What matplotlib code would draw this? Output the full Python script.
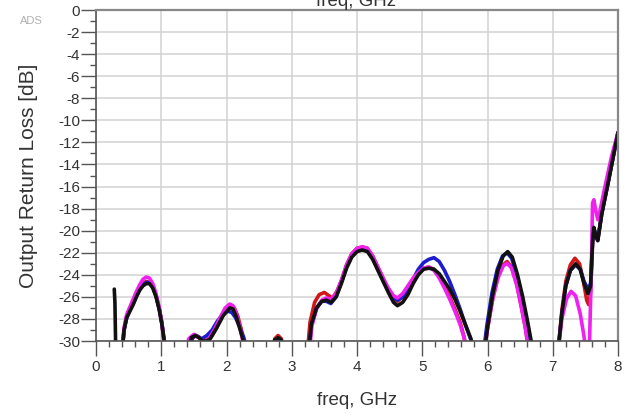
import numpy as np
import matplotlib.pyplot as plt
from matplotlib.ticker import MultipleLocator

nan = np.nan

# Output return loss traces (dB vs GHz), NaN separates the visible segments
freq_red = [0.40, 0.43, 0.47, 0.52, 0.57, 0.62, 0.67, 0.72, 0.77, 0.82, 0.87, 0.92, 0.97, 1.01, 1.04, 1.06, nan,
            1.43, 1.47, 1.52, 1.58, 1.64, 1.70, 1.77, 1.85, 1.93, 2.01, 2.07, 2.12, 2.17, 2.22, 2.26, 2.29, nan,
            2.70, 2.74, 2.79, 2.84, 2.88, nan,
            3.24, 3.28, 3.35, 3.42, 3.50, 3.57, 3.63, 3.70, 3.77, 3.84, 3.92, 4.00, 4.08, 4.16, 4.24, 4.32, 4.40,
            4.48, 4.56, 4.62, 4.70, 4.78, 4.86, 4.94, 5.02, 5.10, 5.18, 5.26, 5.34, 5.42, 5.50, 5.58, 5.64, 5.69, nan,
            5.95, 6.00, 6.08, 6.16, 6.24, 6.30, 6.37, 6.45, 6.52, 6.58, 6.64, nan,
            7.08, 7.14, 7.20, 7.27, 7.34, 7.41, 7.47, 7.52, 7.55, 7.58, 7.61, 7.63, 7.66, 7.69, 7.75, 7.85, 7.93, 8.00]
db_red = [-31, -29.0, -27.8, -27.1, -26.5, -25.8, -25.2, -24.8, -24.6, -24.7, -25.1, -25.9, -27.1, -28.4, -30.0, -31, nan,
          -31, -29.8, -29.5, -29.7, -30.0, -29.9, -29.6, -28.8, -27.8, -27.0, -26.8, -27.0, -27.7, -28.8, -29.9, -31, nan,
          -31, -29.8, -29.5, -29.8, -31, nan,
          -31, -28.3, -26.5, -25.8, -25.6, -25.9, -26.1, -25.4, -24.4, -23.1, -22.1, -21.6, -21.5, -21.6, -22.3, -23.3, -24.3,
          -25.3, -26.1, -26.4, -26.0, -25.2, -24.4, -23.8, -23.4, -23.3, -23.5, -24.1, -25.0, -26.0, -27.1, -28.3, -29.6, -31, nan,
          -31, -28.9, -26.1, -24.2, -23.1, -22.8, -23.3, -24.9, -26.9, -28.8, -31, nan,
          -31, -27.2, -24.6, -23.1, -22.5, -23.0, -24.6, -26.3, -26.7, -25.6, -21.2, -19.8, -20.5, -20.9, -18.5, -15.6, -13.2, -11.1]

freq_blue = [0.40, 0.43, 0.47, 0.52, 0.57, 0.62, 0.67, 0.72, 0.77, 0.82, 0.87, 0.92, 0.97, 1.01, 1.05, 1.07, nan,
             1.42, 1.48, 1.54, 1.62, 1.70, 1.78, 1.86, 1.94, 2.02, 2.08, 2.14, 2.20, 2.26, 2.29, 2.32, nan,
             2.71, 2.75, 2.79, 2.83, 2.87, nan,
             3.26, 3.30, 3.38, 3.46, 3.53, 3.60, 3.68, 3.76, 3.84, 3.92, 4.00, 4.08, 4.16, 4.24, 4.32, 4.40,
             4.48, 4.56, 4.62, 4.70, 4.78, 4.86, 4.94, 5.02, 5.10, 5.18, 5.26, 5.34, 5.42, 5.50, 5.58, 5.66, 5.74, 5.80, nan,
             5.94, 5.99, 6.07, 6.15, 6.23, 6.30, 6.37, 6.45, 6.53, 6.61, 6.69, nan,
             7.08, 7.14, 7.20, 7.27, 7.35, 7.42, 7.48, 7.54, 7.58, 7.61, 7.63, 7.66, 7.69, 7.75, 7.85, 7.93, 8.00]
db_blue = [-31, -29.0, -27.9, -27.2, -26.6, -25.9, -25.3, -24.9, -24.7, -24.7, -25.1, -25.9, -27.1, -28.4, -30.1, -31, nan,
           -31, -29.7, -29.5, -29.8, -29.5, -29.0, -28.2, -27.6, -27.3, -27.4, -27.9, -28.7, -29.6, -30.2, -31, nan,
           -31, -30.0, -29.8, -30.0, -31, nan,
           -31, -28.6, -27.0, -26.4, -26.4, -26.6, -26.0, -24.7, -23.3, -22.3, -21.8, -21.7, -21.8, -22.5, -23.5, -24.5,
           -25.4, -26.1, -26.3, -26.0, -25.3, -24.4, -23.5, -22.9, -22.6, -22.45, -22.8, -23.6, -24.6, -25.8, -27.1, -28.5, -29.8, -31, nan,
           -31, -28.6, -25.6, -23.5, -22.3, -22.0, -22.5, -24.0, -26.1, -28.5, -31, nan,
           -31, -27.5, -25.0, -23.6, -23.1, -23.5, -24.6, -25.3, -24.8, -21.0, -19.8, -20.4, -20.8, -18.5, -15.6, -13.2, -11.1]

freq_magenta = [0.40, 0.43, 0.47, 0.52, 0.57, 0.62, 0.67, 0.72, 0.77, 0.82, 0.87, 0.92, 0.97, 1.01, 1.04, 1.06, nan,
                1.38, 1.42, 1.50, 1.56, 1.62, 1.68, 1.74, 1.82, 1.90, 1.98, 2.05, 2.10, 2.15, 2.20, 2.25, 2.27, nan,
                3.27, 3.31, 3.38, 3.46, 3.53, 3.60, 3.68, 3.76, 3.84, 3.92, 4.00, 4.08, 4.16, 4.24, 4.32, 4.40,
                4.48, 4.56, 4.62, 4.70, 4.78, 4.86, 4.94, 5.02, 5.10, 5.18, 5.26, 5.34, 5.42, 5.50, 5.58, 5.64, 5.68, nan,
                5.95, 6.00, 6.08, 6.16, 6.24, 6.30, 6.37, 6.45, 6.52, 6.58, 6.63, nan,
                7.08, 7.14, 7.21, 7.28, 7.35, 7.42, 7.48, 7.50, nan,
                7.56, 7.59, 7.61, 7.63, 7.66, 7.69, 7.72, 7.80, 7.90, 8.00]
db_magenta = [-31, -28.8, -27.6, -26.9, -26.2, -25.5, -24.9, -24.4, -24.2, -24.3, -24.8, -25.7, -27.0, -28.4, -30.0, -31, nan,
              -31, -29.8, -29.4, -29.6, -29.9, -30.1, -29.7, -28.9, -27.9, -27.0, -26.65, -26.8, -27.5, -28.6, -30.0, -31, nan,
              -31, -28.6, -27.1, -26.3, -26.1, -26.2, -25.7, -24.5, -23.1, -22.1, -21.6, -21.45, -21.6, -22.3, -23.3, -24.3,
              -25.2, -25.9, -26.1, -25.7, -25.0, -24.3, -23.8, -23.4, -23.3, -23.6, -24.3, -25.2, -26.2, -27.3, -28.5, -29.7, -31, nan,
              -31, -28.9, -26.2, -24.3, -23.2, -22.95, -23.4, -25.0, -27.0, -28.8, -31, nan,
              -31, -28.0, -26.2, -25.5, -25.9, -27.5, -29.6, -31, nan,
              -31, -24.0, -17.5, -17.2, -18.2, -19.0, -18.3, -16.0, -13.3, -11.1]

freq_black = [0.28, 0.29, 0.30, 0.31, nan,
              0.40, 0.43, 0.47, 0.52, 0.57, 0.62, 0.67, 0.72, 0.77, 0.82, 0.87, 0.92, 0.97, 1.01, 1.05, 1.07, nan,
              1.42, 1.46, 1.52, 1.58, 1.64, 1.70, 1.75, 1.85, 1.95, 2.05, 2.10, 2.15, 2.20, 2.25, 2.28, nan,
              2.70, 2.74, 2.79, 2.84, 2.88, nan,
              3.26, 3.30, 3.38, 3.46, 3.53, 3.60, 3.68, 3.76, 3.84, 3.92, 4.00, 4.08, 4.16, 4.24, 4.32, 4.40,
              4.48, 4.56, 4.62, 4.70, 4.78, 4.86, 4.94, 5.02, 5.10, 5.18, 5.26, 5.34, 5.42, 5.50, 5.58, 5.66, 5.74, 5.80, nan,
              5.95, 6.00, 6.08, 6.16, 6.24, 6.31, 6.38, 6.46, 6.54, 6.62, 6.70, nan,
              7.08, 7.14, 7.20, 7.27, 7.35, 7.42, 7.48, 7.54, 7.58, 7.61, 7.63, 7.66, 7.69, 7.75, 7.85, 7.93, 8.00]
db_black = [-25.3, -26.5, -30.0, -31, nan,
            -31, -29.0, -27.9, -27.3, -26.7, -26.0, -25.4, -25.0, -24.8, -24.8, -25.2, -26.0, -27.2, -28.5, -30.2, -31, nan,
            -31, -29.7, -29.5, -29.7, -30.0, -30.0, -29.8, -28.8, -27.7, -27.0, -27.1, -27.8, -28.8, -29.8, -31, nan,
            -31, -29.9, -29.7, -29.9, -31, nan,
            -31, -28.5, -27.0, -26.4, -26.3, -26.5, -26.0, -24.8, -23.4, -22.4, -21.9, -21.75, -21.9, -22.6, -23.6, -24.6,
            -25.6, -26.5, -26.8, -26.5, -25.8, -24.8, -24.0, -23.5, -23.4, -23.5, -23.9, -24.6, -25.3, -26.2, -27.3, -28.5, -29.7, -31, nan,
            -31, -28.8, -25.8, -23.6, -22.3, -21.9, -22.4, -24.0, -26.0, -28.4, -31, nan,
            -31, -27.5, -25.0, -23.6, -23.0, -23.5, -24.8, -25.7, -25.0, -21.0, -19.7, -20.5, -20.9, -18.5, -15.6, -13.2, -11.1]

xticks = np.arange(0, 9, 1)
yticks = np.arange(-30, 1, 2)

traces = [(freq_red, db_red, '#d01818'),
          (freq_blue, db_blue, '#1c1ccf'),
          (freq_magenta, db_magenta, '#f020f0'),
          (freq_black, db_black, '#111111')]

plt.rcParams['font.family'] = ['Liberation Sans', 'DejaVu Sans']
plt.rcParams['axes.unicode_minus'] = False

fig = plt.figure(figsize=(6.37, 4.15), dpi=100)
ax = fig.add_axes([96/637, 1 - 341/415, 522/637, 331/415])

for fx, fy, col in traces:
    ax.plot(fx, fy, color=col, lw=2.6, solid_capstyle='round', solid_joinstyle='round')

ax.set_xlim(0, 8)
ax.set_ylim(-30, 0)
ax.set_xticks(xticks)
ax.set_yticks(yticks)
ax.xaxis.set_minor_locator(MultipleLocator(0.2))
ax.yaxis.set_minor_locator(MultipleLocator(1))
ax.grid(True, which='major', color='#d2d2d2', lw=1.1)
ax.set_axisbelow(True)

txt = '#333333'
tick_col = '#555555'
ax.tick_params(axis='both', which='major', direction='out', length=11, width=1, color=tick_col,
               labelsize=11, labelcolor=txt)
ax.tick_params(axis='both', which='minor', direction='out', length=4.3, width=1, color=tick_col)
ax.tick_params(axis='x', which='major', pad=3)
ax.tick_params(axis='y', which='major', pad=0.5)

for side in ['left', 'bottom']:
    ax.spines[side].set_color(tick_col)
    ax.spines[side].set_linewidth(1.2)
for side in ['top', 'right']:
    ax.spines[side].set_color('#888888')
    ax.spines[side].set_linewidth(1.6)

ax.set_ylabel('Output Return Loss [dB]', fontsize=15, color=txt)
ax.yaxis.set_label_coords(-0.111, 0.5)
ax.set_xlabel('freq, GHz', fontsize=13.5, color=txt)
ax.xaxis.set_label_coords(0.50, -0.155)

fig.text(20/637, 1 - 24/415, 'ADS', fontsize=8, color='#b0b0b0')
fig.text(356/637, 1 - 6/415, 'freq, GHz', fontsize=13.5, color=txt, ha='center', va='baseline')

plt.savefig('out.png', dpi=100)
